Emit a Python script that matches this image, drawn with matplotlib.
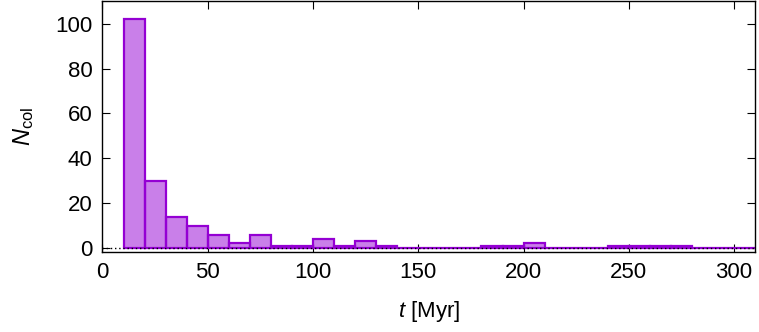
import matplotlib
matplotlib.use("Agg")
import matplotlib.pyplot as plt

plt.rcParams['font.family'] = ['Liberation Sans', 'DejaVu Sans']
plt.rcParams['mathtext.fontset'] = 'custom'
plt.rcParams['mathtext.rm'] = 'Liberation Sans'
plt.rcParams['mathtext.it'] = 'Liberation Sans:italic'
plt.rcParams['font.size'] = 16

bin_left = [10, 20, 30, 40, 50, 60, 70, 80, 90, 100, 110, 120, 130, 140, 150,
            160, 170, 180, 190, 200, 210, 220, 230, 240, 250, 260, 270, 280, 290, 300]
counts = [102, 30, 14, 10, 6, 2, 6, 1, 1, 4, 1, 3, 1, 0, 0,
          0, 0, 1, 1, 2, 0, 0, 0, 1, 1, 1, 1, 0, 0, 0]
bin_width = 10
x_ticks = [0, 50, 100, 150, 200, 250, 300]
y_ticks = [0, 20, 40, 60, 80, 100]

fig = plt.figure(figsize=(7.59, 3.32), dpi=100)
ax = fig.add_axes([0.135, 0.241, 0.860, 0.755])

edge = '#9400d3'
ax.bar(bin_left, counts, width=bin_width, align='edge',
       facecolor=(0.58, 0.0, 0.83, 0.5), edgecolor=edge, linewidth=1.6, zorder=2)
ax.axhline(0, color='black', ls=(0, (1, 2)), lw=1.0, zorder=3)

ax.set_xlim(0, 310)
ax.set_ylim(-1.8, 110)
ax.set_xticks(x_ticks)
ax.set_yticks(y_ticks)
ax.tick_params(direction='in', top=True, right=True, length=6, width=0.8, pad=7)
for s in ax.spines.values():
    s.set_linewidth(1.0)

ax.set_xlabel(r'$t$ [Myr]', labelpad=12)
ax.set_ylabel(r'$N_{\rm col}$', labelpad=14, fontsize=17)

fig.savefig('out.png', dpi=100)
